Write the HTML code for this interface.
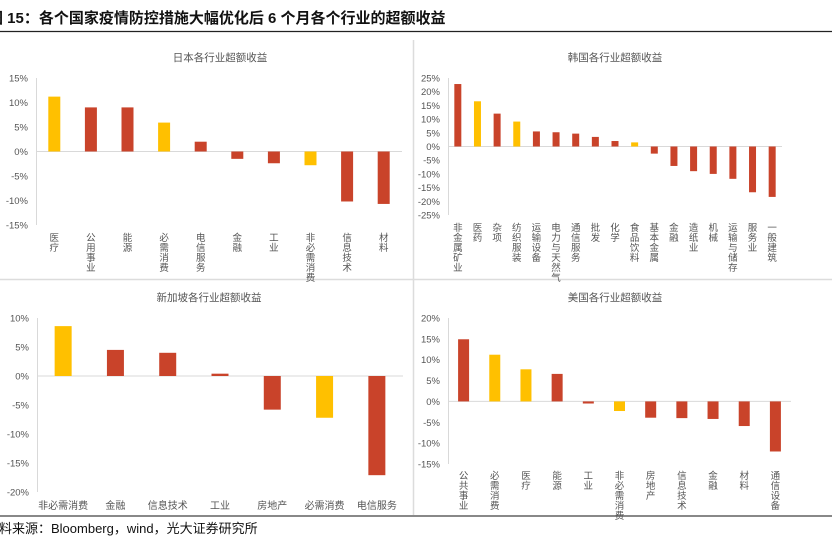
<!DOCTYPE html>
<html><head><meta charset="utf-8">
<style>
html,body{margin:0;padding:0;background:#fff;}
body{width:832px;height:523px;overflow:hidden;position:relative;font-family:"Liberation Sans","Noto Sans CJK SC",sans-serif;}
#title{position:absolute;left:-12px;top:7px;font-size:15px;font-weight:bold;color:#111;white-space:nowrap;font-family:"Liberation Sans","Noto Sans CJK SC",sans-serif;}
#src{position:absolute;left:-14px;top:518px;font-size:13px;color:#111;white-space:nowrap;}
svg{position:absolute;left:0;top:0;}
</style></head><body>
<div id="title">图 15：各个国家疫情防控措施大幅优化后 6 个月各个行业的超额收益</div>
<svg id="chart" width="832" height="523"></svg>
<div id="src">资料来源：Bloomberg，wind，光大证券研究所</div>
<script>
const jpCats=["医疗","公用事业","能源","必需消费","电信服务","金融","工业","非必需消费","信息技术","材料"];
const jpVals=[11.2,9.0,9.0,5.9,2.0,-1.5,-2.4,-2.8,-10.2,-10.7];
const jpHi=[1,0,0,1,0,0,0,1,0,0];
const jpTicks=[15,10,5,0,-5,-10,-15];
const krCats=["非金属矿业","医药","杂项","纺织服装","运输设备","电力与天然气","通信服务","批发","化学","食品饮料","基本金属","金融","造纸业","机械","运输与储存","服务业","一般建筑"];
const krVals=[22.8,16.5,12.0,9.1,5.5,5.2,4.7,3.5,2.0,1.5,-2.6,-7.1,-9.0,-10.0,-11.8,-16.7,-18.4];
const krHi=[0,1,0,1,0,0,0,0,0,1,0,0,0,0,0,0,0];
const krTicks=[25,20,15,10,5,0,-5,-10,-15,-20,-25];
const sgCats=["非必需消费","金融","信息技术","工业","房地产","必需消费","电信服务"];
const sgVals=[8.6,4.5,4.0,0.4,-5.8,-7.2,-17.1];
const sgHi=[1,0,0,0,0,1,0];
const sgTicks=[10,5,0,-5,-10,-15,-20];
const usCats=["公共事业","必需消费","医疗","能源","工业","非必需消费","房地产","信息技术","金融","材料","通信设备"];
const usVals=[14.9,11.2,7.7,6.6,-0.5,-2.3,-3.9,-4.0,-4.2,-5.9,-12.0];
const usHi=[0,1,1,0,0,1,0,0,0,0,0];
const usTicks=[20,15,10,5,0,-5,-10,-15];

const NS="http://www.w3.org/2000/svg";
const svg=document.getElementById('chart');
function mk(tag,attrs,parent){const e=document.createElementNS(NS,tag);for(const k in attrs)e.setAttribute(k,attrs[k]);(parent||svg).appendChild(e);return e;}

let l;
l=mk('line',{x1:0,y1:31.5,x2:832,y2:31.5,stroke:'#222','stroke-width':1.2});


l=mk('line',{x1:413.5,y1:40,x2:413.5,y2:516,stroke:'#dcdcdc','stroke-width':1.5});


l=mk('line',{x1:0,y1:279.5,x2:832,y2:279.5,stroke:'#dcdcdc','stroke-width':1.5});


l=mk('line',{x1:0,y1:516,x2:832,y2:516,stroke:'#888','stroke-width':2});



function drawChart(o){
  const g=mk('g',{});
  
  
  const t=mk('text',{x:o.tx,y:o.ty,'font-size':10.5,fill:'#555','text-anchor':'middle'},g);
  t.textContent=o.title;
  
  
  const max=o.ticks[0],min=o.ticks[o.ticks.length-1];
  const y=v=>o.yTop+(max-v)/(max-min)*(o.yBot-o.yTop);
  const ax=mk('line',{x1:o.x0+0.5,y1:o.yTop,x2:o.x0+0.5,y2:o.yBot,stroke:'#d9d9d9'},g);
  
  
  o.ticks.forEach(tv=>{
    const tt=mk('text',{x:o.x0-8,y:y(tv)+3.5,'font-size':9.5,fill:'#555','text-anchor':'end'},g);
    tt.textContent=tv+'%';
    
    
  });
  const n=o.cats.length,w=(o.x1-o.x0)/n;
  const z=mk('line',{x1:o.x0,y1:y(0),x2:o.x1,y2:y(0),stroke:'#d9d9d9'},g);
  
  
  o.cats.forEach((c,i)=>{
    const cx=o.x0+w*(i+0.5),v=o.vals[i];
    const r=mk('rect',{x:cx-o.bw/2,y:Math.min(y(v),y(0)),width:o.bw,height:Math.abs(y(v)-y(0)),fill:o.hi[i]?'#FFC000':'#C9432A'},g);
    
    
    if(o.horiz){
      const lt=mk('text',{x:cx,y:o.ly,'font-size':10,fill:'#555','text-anchor':'middle'},g);
      lt.textContent=c;
      
      
    }else{
      const lt=mk('text',{x:cx,y:o.ly,'font-size':9.5,fill:'#555','text-anchor':'middle'},g);
      
      
      [...c].forEach((ch,k)=>{const ts=mk('tspan',{x:cx,y:o.ly+k*10},lt);ts.textContent=ch;});
    }
  });
}
drawChart({name:'japan-chart',title:'日本各行业超额收益',tx:220,ty:61,x0:36,x1:402,yTop:78,yBot:225,ticks:jpTicks,cats:jpCats,vals:jpVals,hi:jpHi,bw:12,ly:241});
drawChart({name:'korea-chart',title:'韩国各行业超额收益',tx:615,ty:61,x0:448,x1:782,yTop:78,yBot:215,ticks:krTicks,cats:krCats,vals:krVals,hi:krHi,bw:7,ly:231});
drawChart({name:'singapore-chart',title:'新加坡各行业超额收益',tx:209,ty:301,x0:37,x1:403,yTop:318,yBot:492,ticks:sgTicks,cats:sgCats,vals:sgVals,hi:sgHi,bw:17,ly:509,horiz:true});
drawChart({name:'us-chart',title:'美国各行业超额收益',tx:615,ty:301,x0:448,x1:791,yTop:318,yBot:464,ticks:usTicks,cats:usCats,vals:usVals,hi:usHi,bw:11,ly:479});
</script>
</body></html>
